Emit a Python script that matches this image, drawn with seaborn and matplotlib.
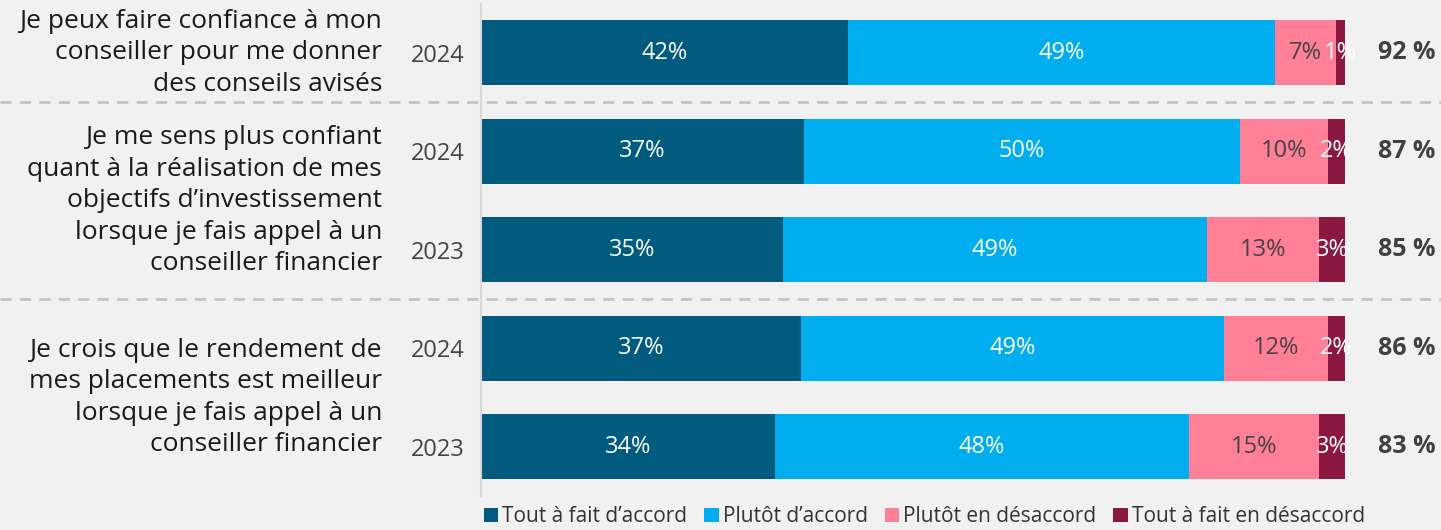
import numpy as np
import pandas as pd
import matplotlib.pyplot as plt
import matplotlib.transforms as mtransforms
from matplotlib.patches import Patch
import seaborn as sns

# data
rows = ["r0", "r1", "r2", "r3", "r4"]
years = ["2024", "2024", "2023", "2024", "2023"]
tout_accord = [42, 37, 35, 37, 34]
plutot_accord = [49, 50, 49, 49, 48]
plutot_desaccord = [7, 10, 13, 12, 15]
tout_desaccord = [1, 2, 3, 2, 3]
totals = ["92 %", "87 %", "85 %", "86 %", "83 %"]
statements = [
    "Je peux faire confiance à mon\nconseiller pour me donner\ndes conseils avisés",
    "Je me sens plus confiant\nquant à la réalisation de mes\nobjectifs d\u2019investissement\nlorsque je fais appel à un\nconseiller financier",
    "Je crois que le rendement de\nmes placements est meilleur\nlorsque je fais appel à un\nconseiller financier",
]
statement_pos = [0, 1.5, 3.5]
series = ["Tout à fait d\u2019accord", "Plutôt d\u2019accord", "Plutôt en désaccord", "Tout à fait en désaccord"]
colors = ["#005b7f", "#00aeef", "#ff7f96", "#8a1840"]
label_colors = ["white", "white", "#444444", "white"]

sns.set_theme(style="white")
plt.rcParams['font.family'] = ['Open Sans', 'DejaVu Sans']

bg = "#f1f1f1"
fig = plt.figure(figsize=(14.41, 5.30), dpi=100, facecolor=bg)
ax = fig.add_axes([481 / 1441, 1 - 496 / 530, 864 / 1441, (496 - 3.75) / 530])
ax.set_facecolor(bg)

vals = np.array([tout_accord, plutot_accord, plutot_desaccord, tout_desaccord], dtype=float)
# each bar is drawn as share of its own total
shares = vals / vals.sum(axis=0) * 100
cum = np.cumsum(shares, axis=0)

df = pd.DataFrame({"row": rows})
for i in range(3, -1, -1):
    df["v"] = cum[i]
    sns.barplot(data=df, x="v", y="row", color=colors[i], saturation=1,
                width=0.66, orient="h", ax=ax, edgecolor="none")

for i in range(4):
    for j in range(len(rows)):
        ax.text(cum[i, j] - shares[i, j] / 2, j, f"{vals[i, j]:.0f}%",
                ha="center", va="center", fontsize=17, color=label_colors[i])

ax.set_xlim(0, 100)
ax.set_ylim(4.5, -0.5)
ax.set_xlabel("")
ax.set_ylabel("")
ax.set_xticks([])
ax.set_yticks(range(len(rows)))
ax.set_yticklabels(years, fontsize=17, color="#444444")
ax.tick_params(axis="y", length=0, pad=12)
for s in ["top", "right", "bottom"]:
    ax.spines[s].set_visible(False)
ax.spines["left"].set_color("#d8d8d8")
ax.spines["left"].set_linewidth(1.5)

trans = mtransforms.blended_transform_factory(fig.transFigure, ax.transData)

for txt, p in zip(statements, statement_pos):
    ax.text(382 / 1441, p, txt, transform=trans, ha="right", va="center",
            fontsize=19, color="#1a1a1a", linespacing=1.34)

for j, t in enumerate(totals):
    ax.text(1407 / 1441, j, t, transform=trans, ha="center", va="center",
            fontsize=18, fontweight="bold", color="#404040")

for yy in [0.5, 2.5]:
    ax.plot([0, 1], [yy, yy], transform=trans, color="#c4c4c4", lw=2,
            ls=(0, (4, 3)), clip_on=False)

handles = [Patch(facecolor=c, edgecolor="none") for c in colors]
fig.legend(handles, series, loc="lower left", bbox_to_anchor=(465 / 1441, -0.03),
           ncol=4, frameon=False, fontsize=15, handlelength=0.7, handleheight=0.7,
           handletextpad=0.2, columnspacing=0.8, labelcolor="#333333")

plt.savefig("out.png", dpi=100, facecolor=bg)
plt.close()
